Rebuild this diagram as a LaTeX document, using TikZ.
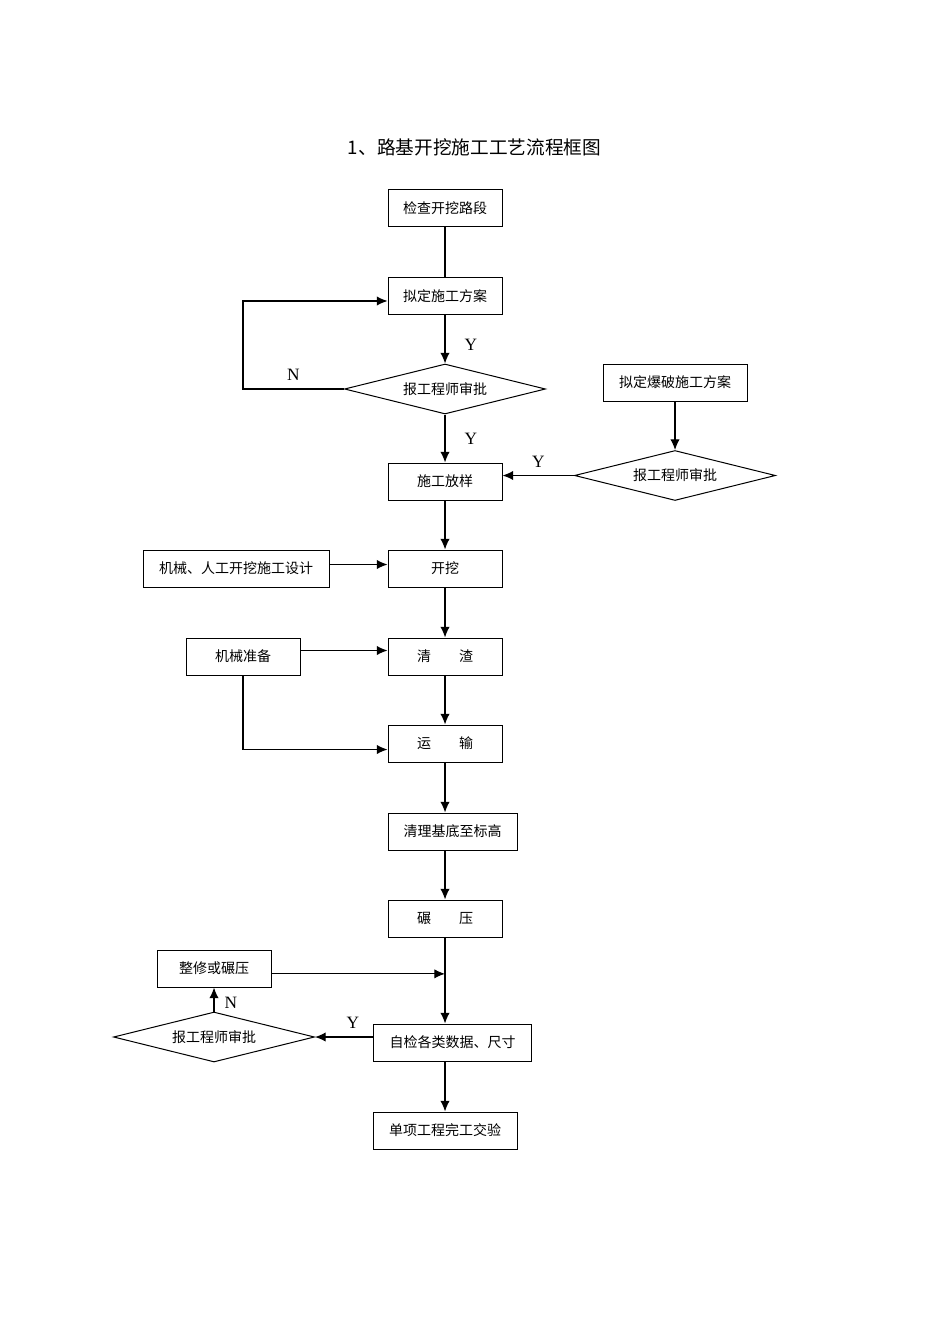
\documentclass[tikz,border=0pt]{standalone}
\usepackage{fontspec}
\setmainfont{Liberation Serif}
\newfontfamily\cjk{Noto Sans CJK SC}
\usetikzlibrary{shapes.geometric,arrows.meta}

\begin{document}
\begin{tikzpicture}[x=0.75pt, y=-0.75pt]
    % Styles
    \tikzstyle{box} = [rectangle, draw, line width=0.75pt, minimum width=85.5pt, minimum height=27.75pt, inner sep=1pt, align=center, font=\cjk\fontsize{10.5pt}{12pt}\selectfont]
    \tikzstyle{check} = [diamond, draw, line width=0.75pt, aspect=4, inner sep=0pt, minimum width=150.75pt, minimum height=37.5pt, font=\cjk\fontsize{10.5pt}{12pt}\selectfont]
    \tikzstyle{arrow} = [line width=0.9pt, -{Latex[length=8pt, width=7pt]}]
    \tikzstyle{line} = [line width=0.9pt]
    \tikzstyle{yn} = [font=\fontsize{13pt}{15pt}\selectfont, inner sep=1pt]

    \useasboundingbox (0,0) rectangle (950,1344);

    % Title
    \node[font=\cjk\fontsize{14pt}{16pt}\selectfont] (title) at (474.5,147) {1、路基开挖施工工艺流程框图};

    % Nodes
    \node[box] (survey) at (445,208.5) {检查开挖路段};
    \node[box] (plan) at (445,296) {拟定施工方案};
    \node[check] (approve1) at (445,389) {\raisebox{-3pt}{报工程师审批}};
    \node[box] (stake) at (445,481.5) {施工放样};
    \node[box, minimum width=108pt] (blast) at (675,382.5) {拟定爆破施工方案};
    \node[check] (approve2) at (675,475.5) {\raisebox{-3pt}{报工程师审批}};
    \node[box, minimum width=139.5pt] (design) at (236,568.5) {机械、人工开挖施工设计};
    \node[box] (dig) at (445,568.5) {开挖};
    \node[box] (machine) at (243,656.5) {机械准备};
    \node[box] (clear) at (445,656.5) {清\hspace{2em}渣};
    \node[box] (haul) at (445,743.5) {运\hspace{2em}输};
    \node[box, minimum width=96.75pt] (base) at (452.5,831.5) {清理基底至标高};
    \node[box] (roll) at (445,918.5) {碾\hspace{2em}压};
    \node[box] (repair) at (214,968.5) {整修或碾压};
    \node[box, minimum width=118.5pt] (test) at (452.5,1042.5) {自检各类数据、尺寸};
    \node[check] (approve3) at (214,1037) {\raisebox{-3pt}{报工程师审批}};
    \node[box, minimum width=108pt] (accept) at (445,1130.5) {单项工程完工交验};

    % Arrows
    \draw[line] (survey) -- (plan);
    \draw[arrow] (plan) -- (approve1) node[yn, midway, xshift=19.5pt, yshift=-4.5pt] (y1) {Y};
    \draw[arrow] (approve1) -- (stake) node[yn, midway, xshift=19.5pt] (y2) {Y};
    \draw[arrow] (approve1.west) -- ++(-101,0) node[yn, midway, yshift=10.5pt] (n1) {N}
        |- ([yshift=-3.75pt]plan.west);

    \draw[arrow] (blast) -- (approve2);
    \draw[arrow] (approve2.west) -- (approve2.west -| stake.east)
        node[yn, midway, yshift=10.5pt] (y3) {Y};

    \draw[arrow] (stake) -- (dig);
    \draw[arrow] ([yshift=3pt]design.east) -- ([yshift=3pt]design.east -| dig.west);
    \draw[arrow] (dig) -- (clear);
    \draw[arrow] ([yshift=4.5pt]machine.east) -- ([yshift=4.5pt]machine.east -| clear.west);
    \draw[arrow] (machine.south) |- ([yshift=-4.5pt]haul.west);
    \draw[arrow] (clear) -- (haul);
    \draw[arrow] (haul) -- (haul.south |- base.north);
    \draw[arrow] (roll.north |- base.south) -- (roll);
    \draw[arrow] (roll) -- (roll.south |- test.north);

    \draw[arrow] ([yshift=-4pt]repair.east) -- ([yshift=-4pt]repair.east -| roll.south);
    \draw[arrow] (approve3.east -| test.west) -- (approve3.east)
        node[yn, midway, xshift=6.75pt, yshift=10.5pt] (y4) {Y};
    \draw[arrow] (approve3.north) -- (repair.south)
        node[yn, midway, xshift=12.75pt, yshift=-2.6pt] (n2) {N};
    \draw[arrow] (accept.north |- test.south) -- (accept.north);

\end{tikzpicture}
\end{document}
